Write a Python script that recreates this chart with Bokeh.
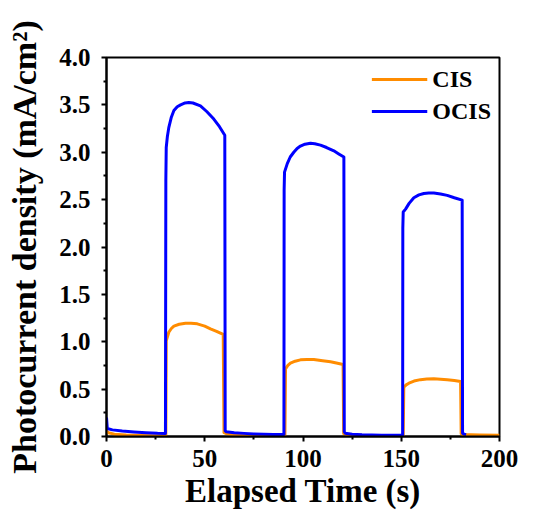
from bokeh.plotting import figure
from bokeh.models import Range1d, FixedTicker, PrintfTickFormatter, Legend, LegendItem
from bokeh.embed import file_html
from bokeh.resources import INLINE

# ---- data ----
t_cis = [0, 1, 4, 10, 18, 25, 30.2, 30.4, 31.7, 33, 34.3, 37, 40.2, 43, 46.2, 50, 52.9, 56, 59.4,
         59.8, 61, 65, 75, 90.8, 91.1, 92.3, 93.6, 96, 98.7, 102, 105.5, 110, 114, 117, 120.4,
         120.7, 122, 130, 140, 151.0, 151.3, 152.5, 153.9, 156.5, 159.8, 163, 166.6, 170, 173.4,
         177, 180.2, 180.5, 181, 190, 200]
j_cis = [0.06, 0.04, 0.025, 0.015, 0.01, 0.008, 0.008, 1.01, 1.10, 1.14, 1.165, 1.185, 1.196, 1.195,
         1.189, 1.165, 1.136, 1.11, 1.077,
         0.04, 0.03, 0.02, 0.012, 0.01, 0.714, 0.75, 0.774, 0.795, 0.809, 0.813, 0.813, 0.80, 0.788,
         0.775, 0.76,
         0.03, 0.02, 0.012, 0.01, 0.01, 0.52, 0.545, 0.563, 0.585, 0.60, 0.607, 0.609, 0.605, 0.598,
         0.59, 0.58, 0.03, 0.02, 0.015, 0.012]

t_ocis = [0, 0.4, 3, 8, 14, 20, 26, 30.0, 30.2, 30.4, 31.0, 31.7, 33, 34.3, 36, 37.7, 40, 41.9, 44,
          47.8, 51, 54.6, 57.5, 60.2, 60.4, 61, 65, 70, 75, 80, 85, 90.3, 90.4, 90.6, 92.0, 93.5,
          95.3, 97, 98.7, 101, 103.8, 106, 108.9, 112, 115.7, 118, 120.8, 121.0, 121.5, 125, 130,
          140, 150.7, 150.8, 151.0, 152.2, 154, 156.4, 159, 161.5, 164, 166.6, 170, 173.4, 177,
          181.0, 181.2, 182, 183]
j_ocis = [0.20, 0.085, 0.07, 0.058, 0.048, 0.04, 0.034, 0.032, 2.70, 3.05, 3.17, 3.26, 3.37, 3.44,
          3.48, 3.50, 3.52, 3.525, 3.52, 3.49, 3.43, 3.35, 3.27, 3.18,
          0.06, 0.05, 0.04, 0.033, 0.027, 0.023, 0.021, 0.02, 2.60, 2.79, 2.88, 2.95,
          3.00, 3.04, 3.065, 3.085, 3.095, 3.09, 3.075, 3.05, 3.015, 2.985, 2.95,
          0.05, 0.035, 0.024, 0.018, 0.013, 0.012, 2.20, 2.37, 2.40, 2.46, 2.52, 2.55, 2.565, 2.57,
          2.57, 2.56, 2.545, 2.52, 2.495, 0.035, 0.025, 0.02]

x_ticks = [0, 50, 100, 150, 200]
x_minor = [25, 75, 125, 175]
y_ticks = [0, 0.5, 1.0, 1.5, 2.0, 2.5, 3.0, 3.5, 4.0]
y_minor = [0.25, 0.75, 1.25, 1.75, 2.25, 2.75, 3.25, 3.75]

FONT = "Liberation Serif"

p = figure(width=549, height=520, output_backend="svg", toolbar_location=None,
           x_range=Range1d(0, 200), y_range=Range1d(0, 4),
           min_border_left=106, min_border_right=50, min_border_top=57, min_border_bottom=84)
p.grid.visible = False
p.outline_line_color = "black"
p.outline_line_width = 2
p.background_fill_color = "white"
p.border_fill_color = "white"

r_cis = p.line(t_cis, j_cis, line_color="#FF8C00", line_width=3, line_join="round")
r_ocis = p.line(t_ocis, j_ocis, line_color="#0000FF", line_width=3, line_join="round")

p.xaxis.ticker = FixedTicker(ticks=x_ticks, minor_ticks=x_minor)
p.yaxis.ticker = FixedTicker(ticks=y_ticks, minor_ticks=y_minor)
p.xaxis.formatter = PrintfTickFormatter(format="%d")
p.yaxis.formatter = PrintfTickFormatter(format="%.1f")

for ax in (p.xaxis[0], p.yaxis[0]):
    ax.axis_line_width = 2
    ax.major_tick_line_width = 2
    ax.minor_tick_line_width = 2
    ax.major_tick_in = 0
    ax.major_tick_out = 5
    ax.minor_tick_in = 0
    ax.minor_tick_out = 3
    ax.major_label_text_font = FONT
    ax.major_label_text_font_style = "bold"
    ax.major_label_text_font_size = "25px"
    ax.major_label_text_color = "black"
    ax.axis_label_text_font = FONT
    ax.axis_label_text_font_style = "bold"
    ax.axis_label_text_color = "black"

p.xaxis.axis_label = "Elapsed Time (s)"
p.yaxis.axis_label = "Photocurrent density (mA/cm²)"
p.xaxis.axis_label_text_font_size = "33px"
p.yaxis.axis_label_text_font_size = "34px"
p.xaxis.major_label_standoff = 8
p.xaxis.axis_label_standoff = 3
p.yaxis.major_label_standoff = 11
p.yaxis.axis_label_standoff = 13

legend = Legend(items=[LegendItem(label="CIS", renderers=[r_cis]),
                       LegendItem(label="OCIS", renderers=[r_ocis])],
                location="top_right")
legend.margin = 0
legend.padding = 8
legend.spacing = 4
legend.glyph_width = 56
legend.glyph_height = 28
legend.label_height = 28
legend.label_standoff = 5
legend.label_text_font = FONT
legend.label_text_font_style = "bold"
legend.label_text_font_size = "24px"
legend.label_text_color = "black"
legend.background_fill_alpha = 0
legend.border_line_alpha = 0
p.add_layout(legend, "center")

open("out.html", "w").write(file_html(p, INLINE))
